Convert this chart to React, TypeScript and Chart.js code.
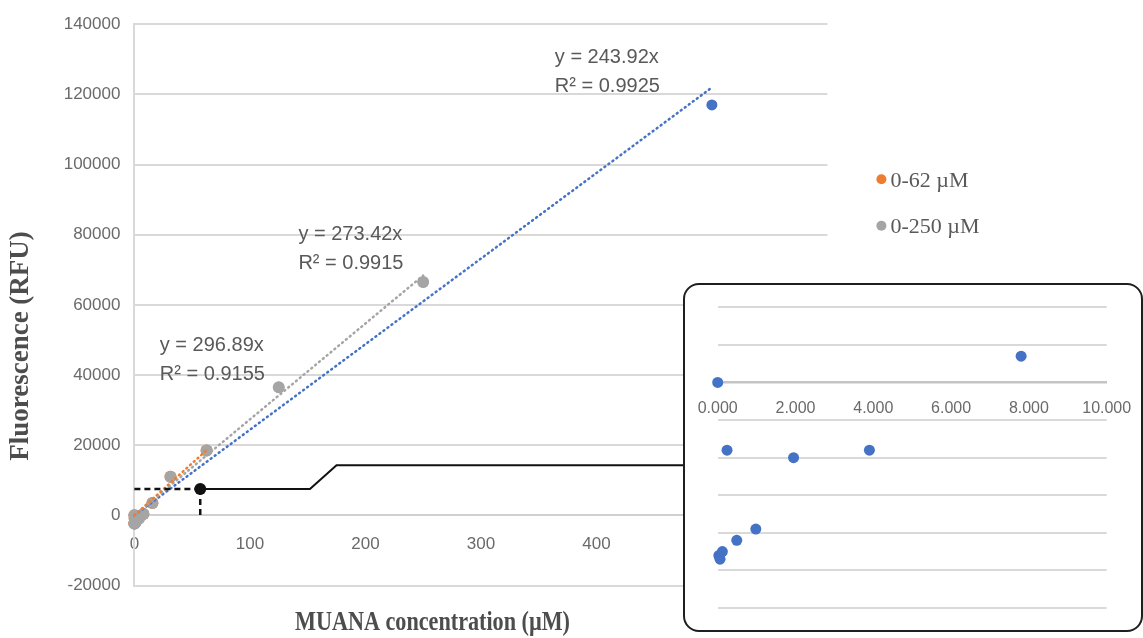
import React, { useEffect, useRef } from "react";
import { Chart, registerables } from "chart.js";

Chart.register(...registerables);

// ---------- data ----------
const concentrations = [0, 0.03, 0.06, 0.12, 0.24, 0.49, 0.98, 1.95, 3.9, 7.8, 15.6, 31.25, 62.5, 125, 250, 500];
const fluorescence = [0, -2300, -2350, -2250, -900, -2100, -1950, -1000, -900, 350, 3500, 11000, 18500, 36500, 66500, 117000];

const seriesLabels = ["0-62 µM", "0-250 µM", "0-500 µM"];
const seriesMaxConc = [62.5, 250, 500];
const seriesColors = ["#ED7D31", "#A5A5A5", "#4472C4"];
const trendSlopes = [296.89, 273.42, 243.92];
const trendR2 = [0.9155, 0.9915, 0.9925];
const trendLabelConc = [22, 142, 364];
const trendLabelFluor = [48300, 80100, 130500];

const unknownConc = [57];
const unknownFluor = [7500];
const calloutConc = [57, 152, 175, 600];
const calloutFluor = [7500, 7500, 14300, 14300];

const mainXRange = [0, 600];
const mainXStep = 100;
const mainYRange = [-20000, 140000];
const mainYStep = 20000;
const insetXRange = [0, 10];
const insetXStep = 2;
const insetYRange = [-3000, 1000];
const insetYStep = 500;

const xTitle = "MUANA concentration (µM)";
const yTitle = "Fluorescence (RFU)";

// ---------- helpers ----------
const pts = (xs: number[], ys: number[]) => xs.map((x, i) => ({ x, y: ys[i] }));
const seriesPoints = (maxC: number) =>
  concentrations
    .map((c, i) => ({ x: c, y: fluorescence[i] }))
    .filter((p) => p.x <= maxC);

const SANS = "'Liberation Sans', Arial, sans-serif";
const SERIF = "'Liberation Serif', 'Times New Roman', serif";

const decorPlugin = {
  id: "decor",
  afterDatasetsDraw(chart: any) {
    const { ctx, chartArea: ca, scales } = chart;
    const xs = scales.x;
    const ys = scales.y;
    ctx.save();
    // trendline equations
    ctx.font = `20px ${SANS}`;
    ctx.fillStyle = "#595959";
    ctx.textAlign = "left";
    ctx.textBaseline = "middle";
    for (let i = 0; i < trendSlopes.length; i++) {
      const px = xs.getPixelForValue(trendLabelConc[i]);
      const py = ys.getPixelForValue(trendLabelFluor[i]);
      ctx.fillText(`y = ${trendSlopes[i]}x`, px, py);
      ctx.fillText(`R² = ${trendR2[i].toFixed(4)}`, px, py + 29);
    }
    // legend (first two series)
    for (let i = 0; i < 2; i++) {
      const ly = ca.top + 155 + i * 46.5;
      const lx = ca.right + 54;
      ctx.beginPath();
      ctx.fillStyle = seriesColors[i];
      ctx.arc(lx, ly, 5, 0, Math.PI * 2);
      ctx.fill();
      ctx.font = `22px ${SERIF}`;
      ctx.fillStyle = "#595959";
      ctx.textBaseline = "middle";
      ctx.fillText(seriesLabels[i], lx + 9, ly + 2);
    }
    // axis titles
    ctx.fillStyle = "#4d4d4d";
    ctx.font = `bold 27px ${SERIF}`;
    ctx.textAlign = "center";
    ctx.textBaseline = "middle";
    const w = ctx.measureText(xTitle).width;
    ctx.save();
    ctx.translate(432.5, 623);
    ctx.scale(275 / w, 1);
    ctx.fillText(xTitle, 0, 0);
    ctx.restore();
    ctx.save();
    ctx.translate(21, 346);
    ctx.rotate(-Math.PI / 2);
    ctx.fillText(yTitle, 0, 0);
    ctx.restore();
    ctx.restore();
  },
};

export default function App() {
  const mainRef = useRef<HTMLCanvasElement>(null);
  const insetRef = useRef<HTMLCanvasElement>(null);

  useEffect(() => {
    const trendDatasets = trendSlopes.map((s, i) => ({
      label: seriesLabels[i] + " trend",
      data: [
        { x: 0, y: 0 },
        { x: seriesMaxConc[i], y: s * seriesMaxConc[i] },
      ],
      showLine: true,
      borderColor: seriesColors[i],
      borderWidth: 2.5,
      borderDash: [1, 4],
      borderCapStyle: "round",
      pointRadius: 0,
      clip: false,
      order: 2 + i * 0.1,
    }));
    const pointDatasets = [1, 0, 2].map((i) => ({
      label: seriesLabels[i],
      data: seriesPoints(seriesMaxConc[i]),
      backgroundColor: seriesColors[i],
      borderColor: seriesColors[i],
      borderWidth: 0,
      pointRadius: i === 2 ? 5.5 : 6,
      showLine: false,
      clip: false,
      order: i === 1 ? 3 : i === 0 ? 4 : 5,
    }));

    const main = new Chart(mainRef.current!, {
      type: "scatter",
      data: {
        datasets: [
          {
            label: "unknown",
            data: pts(unknownConc, unknownFluor),
            backgroundColor: "#111",
            borderColor: "#111",
            borderWidth: 0,
            pointRadius: 6,
            clip: false,
            order: 0,
          },
          {
            label: "guide-h",
            data: [
              { x: 0, y: unknownFluor[0] },
              { x: unknownConc[0], y: unknownFluor[0] },
            ],
            showLine: true,
            borderColor: "#111",
            borderWidth: 2.5,
            borderDash: [6, 4],
            pointRadius: 0,
            clip: false,
            order: 1,
          },
          {
            label: "guide-v",
            data: [
              { x: unknownConc[0], y: unknownFluor[0] },
              { x: unknownConc[0], y: 0 },
            ],
            showLine: true,
            borderColor: "#111",
            borderWidth: 2.5,
            borderDash: [6, 4],
            pointRadius: 0,
            clip: false,
            order: 1,
          },
          {
            label: "callout",
            data: pts(calloutConc, calloutFluor),
            showLine: true,
            borderColor: "#111",
            borderWidth: 2,
            pointRadius: 0,
            clip: false,
            order: 1,
          },
          ...trendDatasets,
          ...pointDatasets,
        ] as any,
      },
      options: {
        animation: false,
        responsive: false,
        events: [],
        layout: { padding: { left: 0, top: 22.3, right: 315.6, bottom: 52.5 } },
        plugins: { legend: { display: false }, tooltip: { enabled: false }, title: { display: false } },
        scales: {
          x: {
            type: "linear",
            position: { y: 0 } as any,
            min: mainXRange[0],
            max: mainXRange[1],
            grid: { display: false, drawTicks: false },
            border: { display: true, color: "#d0d0d0", width: 2 },
            ticks: {
              stepSize: mainXStep,
              padding: 19,
              color: "#6a6a6a",
              font: { family: SANS, size: 17 },
              maxRotation: 0,
            },
          },
          y: {
            type: "linear",
            min: mainYRange[0],
            max: mainYRange[1],
            afterFit: (scale: any) => {
              scale.width = 134.4;
            },
            grid: { color: "#d9d9d9", lineWidth: 2, drawTicks: false },
            border: { display: true, color: "#d9d9d9", width: 2 },
            ticks: {
              stepSize: mainYStep,
              padding: 14,
              color: "#6a6a6a",
              font: { family: SANS, size: 17 },
              callback: (v: any) => String(v),
            },
          },
        },
      },
      plugins: [decorPlugin],
    });

    const inset = new Chart(insetRef.current!, {
      type: "scatter",
      data: {
        datasets: [
          {
            label: seriesLabels[2],
            data: seriesPoints(insetXRange[1]),
            backgroundColor: seriesColors[2],
            borderColor: seriesColors[2],
            borderWidth: 0,
            pointRadius: 5.5,
            clip: false,
          },
        ],
      },
      options: {
        animation: false,
        responsive: false,
        events: [],
        layout: { padding: { left: 32.7, top: 22.3, right: 34.3, bottom: 22 } },
        plugins: { legend: { display: false }, tooltip: { enabled: false } },
        scales: {
          x: {
            type: "linear",
            position: { y: 0 } as any,
            min: insetXRange[0],
            max: insetXRange[1],
            grid: {
              display: true,
              drawOnChartArea: false,
              drawTicks: true,
              tickLength: 17,
              color: "rgba(0,0,0,0)",
              tickColor: "rgba(0,0,0,0)",
            },
            border: { display: true, color: "#c4c4c4", width: 2.5 },
            ticks: {
              stepSize: insetXStep,
              padding: 0,
              color: "#6a6a6a",
              font: { family: SANS, size: 16 },
              maxRotation: 0,
              callback: (v: any) => Number(v).toFixed(3),
            },
          },
          y: {
            type: "linear",
            min: insetYRange[0],
            max: insetYRange[1],
            afterFit: (scale: any) => {
              scale.width = 0;
            },
            grid: { color: "#d9d9d9", lineWidth: 2, drawTicks: false },
            border: { display: false },
            ticks: { display: false, stepSize: insetYStep },
          },
        },
      },
    });

    return () => {
      main.destroy();
      inset.destroy();
    };
  }, []);

  return (
    <div
      style={{
        position: "fixed",
        left: 0,
        top: 0,
        width: 1143,
        height: 638,
        background: "#fff",
        overflow: "hidden",
      }}
    >
      <canvas ref={mainRef} width={1143} height={638} style={{ position: "absolute", left: 0, top: 0 }} />
      <div
        style={{
          position: "absolute",
          left: 683,
          top: 283,
          width: 460,
          height: 349,
          boxSizing: "border-box",
          border: "2px solid #1f1f1f",
          borderRadius: 16,
          background: "#fff",
          overflow: "hidden",
        }}
      >
        <canvas ref={insetRef} width={456} height={345} style={{ position: "absolute", left: 0, top: 0 }} />
      </div>
    </div>
  );
}
